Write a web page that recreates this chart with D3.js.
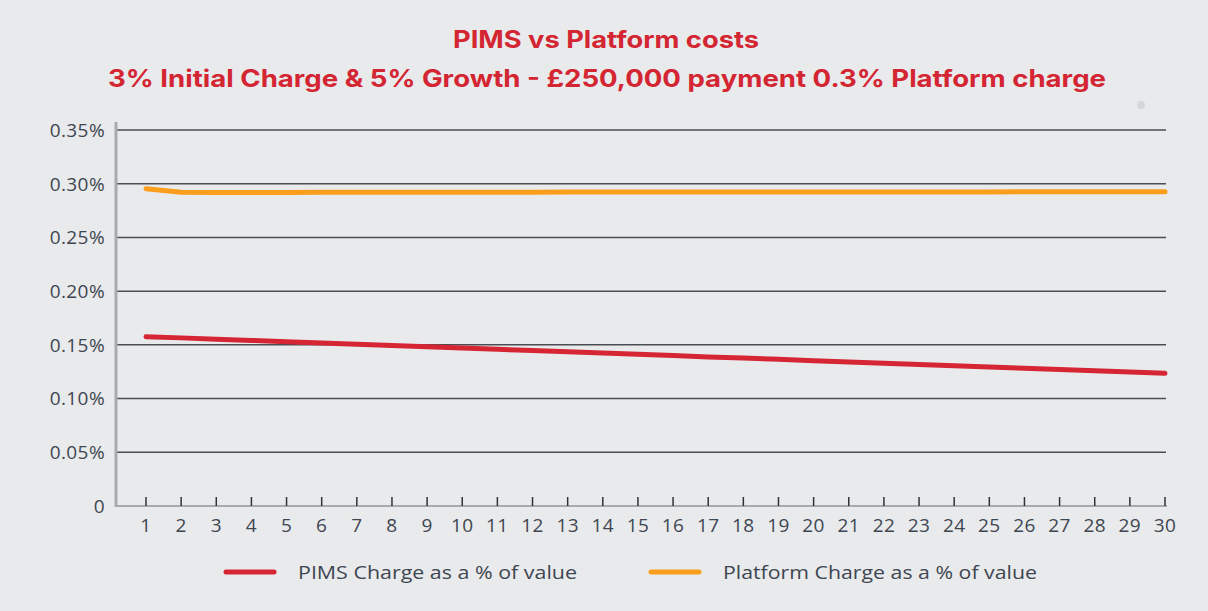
<!DOCTYPE html>
<html lang="en">
<head>
<meta charset="UTF-8">
<title>PIMS vs Platform costs</title>
<script src="https://d3js.org/d3.v7.min.js"></script>
<style>
    body { margin: 0; background: #e9eaec; }
    svg { display: block; font-family: 'Open Sans', 'Inter', sans-serif; }
    .title { fill: #d42533; font-family: 'Inter', sans-serif; font-weight: 700; font-size: 24px; text-anchor: middle; }
    .tick-label { fill: #3e4651; font-size: 19px; letter-spacing: 0.4px; }
    .legend-text { fill: #3e4651; font-size: 18px; }
</style>
</head>
<body>
<svg width="1208" height="611"></svg>
<script>
    const years = d3.range(1, 31);
    const pimsCharge = [0.1576, 0.1565, 0.1553, 0.1541, 0.1529, 0.1517, 0.1506, 0.1494, 0.1482, 0.1471,
                        0.1459, 0.1447, 0.1435, 0.1424, 0.1412, 0.1400, 0.1388, 0.1377, 0.1365, 0.1353,
                        0.1341, 0.1329, 0.1318, 0.1306, 0.1294, 0.1282, 0.1271, 0.1259, 0.1247, 0.1235];
    const platformCharge = [0.2954, 0.2920, 0.2919, 0.2919, 0.2919, 0.2920, 0.2920, 0.2920, 0.2921, 0.2921,
                            0.2921, 0.2921, 0.2922, 0.2922, 0.2922, 0.2922, 0.2922, 0.2923, 0.2923, 0.2923,
                            0.2923, 0.2924, 0.2924, 0.2924, 0.2924, 0.2925, 0.2925, 0.2925, 0.2926, 0.2926];
    const yTicks = [0, 0.05, 0.10, 0.15, 0.20, 0.25, 0.30, 0.35];
    const seriesNames = ["PIMS Charge as a % of value", "Platform Charge as a % of value"];
    const seriesColors = ["#d62634", "#fb9e1c"];

    const svg = d3.select("svg");
    const plotLeft = 116, plotRight = 1167, plotTop = 130, plotBottom = 506;

    const x = d3.scaleLinear().domain([1, 30]).range([146, 1165]);
    const y = d3.scaleLinear().domain([0, 0.35]).range([plotBottom, plotTop]);

    // titles
    svg.append("text").attr("class", "title")
        .attr("x", 606).attr("y", 48)
        .attr("textLength", 306).attr("lengthAdjust", "spacingAndGlyphs")
        .text("PIMS vs Platform costs");
    svg.append("text").attr("class", "title")
        .attr("x", 607).attr("y", 87)
        .attr("textLength", 998).attr("lengthAdjust", "spacingAndGlyphs")
        .text("3% Initial Charge & 5% Growth - £250,000 payment 0.3% Platform charge");

    // little grey dot top right
    svg.append("circle").attr("cx", 1141).attr("cy", 105).attr("r", 4).attr("fill", "#d6d7d8");

    // gridlines
    svg.append("g").selectAll("line")
        .data(yTicks.filter(d => d > 0))
        .join("line")
        .attr("x1", plotLeft).attr("x2", plotRight - 1)
        .attr("y1", d => y(d)).attr("y2", d => y(d))
        .attr("stroke", "#4a4d52").attr("stroke-width", 1.5);

    // y labels
    svg.append("g").selectAll("text")
        .data(yTicks)
        .join("text")
        .attr("class", "tick-label")
        .attr("x", 105).attr("y", d => y(d))
        .attr("dy", "0.36em")
        .attr("text-anchor", "end")
        .text(d => d === 0 ? "0" : d.toFixed(2) + "%");

    // x axis
    svg.append("line")
        .attr("x1", plotLeft).attr("x2", plotRight)
        .attr("y1", plotBottom).attr("y2", plotBottom)
        .attr("stroke", "#a9aaac").attr("stroke-width", 2);
    svg.append("g").selectAll("line")
        .data(years)
        .join("line")
        .attr("x1", d => x(d)).attr("x2", d => x(d))
        .attr("y1", plotBottom - 9).attr("y2", plotBottom)
        .attr("stroke", "#2f3338").attr("stroke-width", 1.5);
    svg.append("g").selectAll("text")
        .data(years)
        .join("text")
        .attr("class", "tick-label")
        .attr("x", d => x(d)).attr("y", 532)
        .attr("text-anchor", "middle")
        .text(d => d);

    // y axis line
    svg.append("line")
        .attr("x1", plotLeft).attr("x2", plotLeft)
        .attr("y1", plotTop - 8).attr("y2", plotBottom + 1)
        .attr("stroke", "#a9aaac").attr("stroke-width", 3);

    // series
    const line = d3.line().x((d, i) => x(years[i])).y(d => y(d));
    [pimsCharge, platformCharge].forEach((values, i) => {
        svg.append("path")
            .datum(values)
            .attr("d", line)
            .attr("fill", "none")
            .attr("stroke", seriesColors[i])
            .attr("stroke-width", 5)
            .attr("stroke-linecap", "round")
            .attr("stroke-linejoin", "round");
    });

    // legend
    const legendX = [226, 651];
    const legendWidths = [279, 314];
    seriesNames.forEach((name, i) => {
        svg.append("line")
            .attr("x1", legendX[i]).attr("x2", legendX[i] + 48)
            .attr("y1", 572).attr("y2", 572)
            .attr("stroke", seriesColors[i]).attr("stroke-width", 5)
            .attr("stroke-linecap", "round");
        svg.append("text")
            .attr("class", "legend-text")
            .attr("x", legendX[i] + 72).attr("y", 573)
            .attr("dy", "0.36em")
            .attr("textLength", legendWidths[i]).attr("lengthAdjust", "spacingAndGlyphs")
            .text(name);
    });
</script>
</body>
</html>
